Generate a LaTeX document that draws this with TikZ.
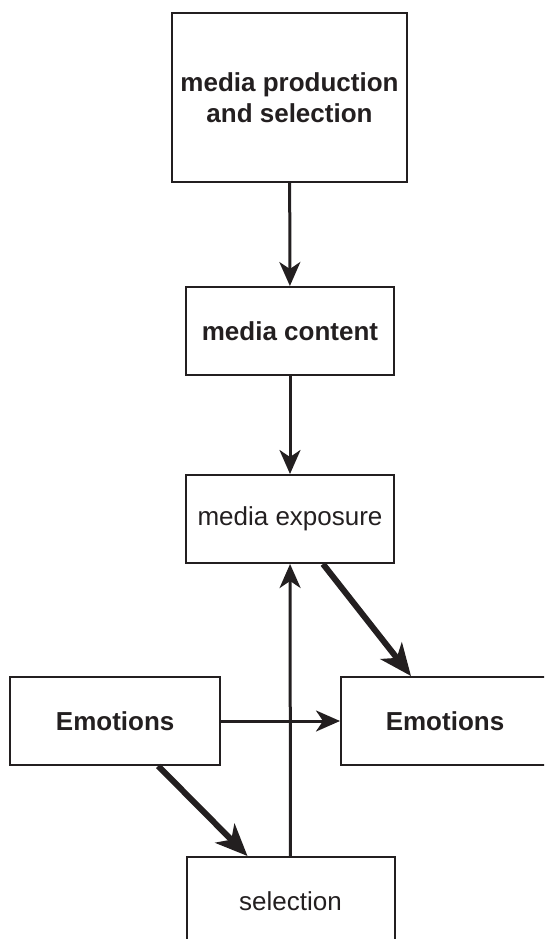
\documentclass[tikz,border=0pt]{standalone}
\usepackage{fontspec}
\setmainfont{Liberation Sans}
\usetikzlibrary{arrows.meta}
\definecolor{ink}{RGB}{35,31,32}

\tikzset{
  box/.style={draw=ink, line width=2pt, text=ink, align=center, inner sep=0pt,
    minimum width=208pt, minimum height=88pt,
    font=\fontsize{26}{31.5}\selectfont},
  boldbox/.style={box, font=\fontsize{26}{31.5}\selectfont\bfseries},
  flow/.style={draw=ink, line width=3pt, -{Stealth[length=24pt,width=21pt,inset=7pt]}},
  bigflow/.style={draw=ink, line width=6pt, -{Stealth[length=32pt,width=27pt,inset=9pt]}}
}

\begin{document}
\begin{tikzpicture}[x=1pt,y=-1pt]

    \clip (0,0) rectangle (544,939);

    % Boxes
    \node[boldbox, minimum width=235pt, minimum height=169pt] (production) at (289.5,97.5) {media production\\and selection};
    \node[boldbox] (content) at (290,331) {media content};
    \node[box] (exposure) at (290,519) {media exposure};
    \node[boldbox, minimum width=210pt] (emotionsL) at (115.2,721) {Emotions};
    \node[boldbox] (emotionsR) at (445,721) {Emotions};
    \node[box] (selection) at (290.5,901) {selection};

    % Arrows
    \draw[flow] (production) -- (content);
    \draw[flow] (content) -- (exposure);
    \draw[flow] (selection) -- (exposure);
    \draw[flow] (emotionsL) -- (emotionsR);

    % Thick arrows
    \draw[bigflow] ([xshift=33pt]exposure.south) -- ([xshift=-34pt]emotionsR.north);
    \draw[bigflow] ([xshift=43pt]emotionsL.south) -- ([xshift=-43pt]selection.north);

\end{tikzpicture}
\end{document}
